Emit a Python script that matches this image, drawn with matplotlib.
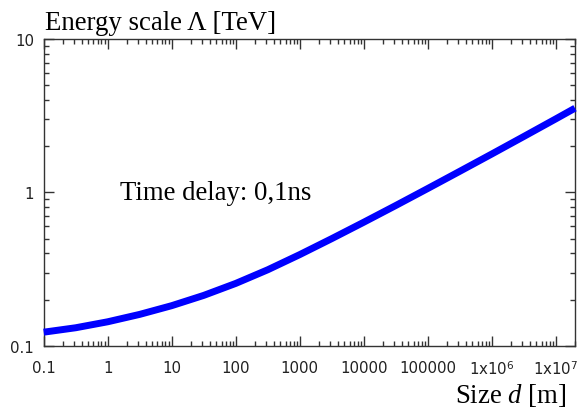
import numpy as np
import matplotlib
matplotlib.use("Agg")
import matplotlib.pyplot as plt
from matplotlib.ticker import LogLocator, NullFormatter

# values (size d in m, energy scale in TeV)
size_m = [0.1, 0.316, 1, 3.16, 10, 31.6, 100, 316, 1000, 3160,
          1e4, 3.16e4, 1e5, 3.16e5, 1e6, 3.16e6, 1e7, 2e7]
energy_tev = [0.1225, 0.1309, 0.1432, 0.1600, 0.1824, 0.2128, 0.2547, 0.3126,
              0.3926, 0.4989, 0.6383, 0.8204, 1.0593, 1.371, 1.778, 2.312,
              3.013, 3.540]

xticks = [0.1, 1, 10, 100, 1000, 1e4, 1e5, 1e6, 1e7]
xticklabels = ["0.1", "1", "10", "100", "1000", "10000", "100000",
               "1x10$^{6}$", "1x10$^{7}$"]
yticks = [0.1, 1, 10]
yticklabels = ["0.1", "1", "10"]

# sans digits for the tick exponents, serif italic for the "d"
plt.rcParams['mathtext.fontset'] = 'custom'
plt.rcParams['mathtext.rm'] = 'DejaVu Sans'
plt.rcParams['mathtext.it'] = 'Liberation Serif:italic'
serif = ['Liberation Serif', 'DejaVu Serif']

fig = plt.figure(figsize=(5.84, 4.10), dpi=100)
ax = fig.add_axes([0.0748, 0.1544, 0.9098, 0.748])

ax.plot(size_m, energy_tev, color='#0000ff', lw=5, clip_on=False,
        solid_capstyle='butt', zorder=3)

ax.set_xscale('log')
ax.set_yscale('log')
ax.set_xlim(0.1, 2e7)
ax.set_ylim(0.1, 10)

ax.set_xticks(xticks)
ax.set_xticklabels(xticklabels)
ax.set_yticks(yticks)
ax.set_yticklabels(yticklabels)
ax.xaxis.set_minor_locator(LogLocator(base=10, subs=np.arange(2, 10), numticks=100))
ax.yaxis.set_minor_locator(LogLocator(base=10, subs=np.arange(2, 10), numticks=100))
ax.xaxis.set_minor_formatter(NullFormatter())
ax.yaxis.set_minor_formatter(NullFormatter())

ax.tick_params(which='both', direction='in', top=True, right=True,
               color='#333333', labelcolor='#222222', labelsize=10.8)
ax.tick_params(which='major', length=7, width=1)
ax.tick_params(which='minor', length=3.5, width=1)
ax.tick_params(axis='x', pad=10)
ax.tick_params(axis='y', pad=7)
for sp in ax.spines.values():
    sp.set_color('#333333')
    sp.set_linewidth(1)

ax.text(1.55, 1.0, "Time delay: 0,1ns", family=serif, fontsize=19.3,
        ha='left', va='center')

fig.text(0.077, 0.927, "Energy scale \u039b [TeV]", family=serif,
         fontsize=19.3, ha='left', va='baseline')
fig.text(0.970, 0.018, "Size $d$ [m]", family=serif,
         fontsize=19.3, ha='right', va='baseline')

fig.savefig("out.png", dpi=100)
